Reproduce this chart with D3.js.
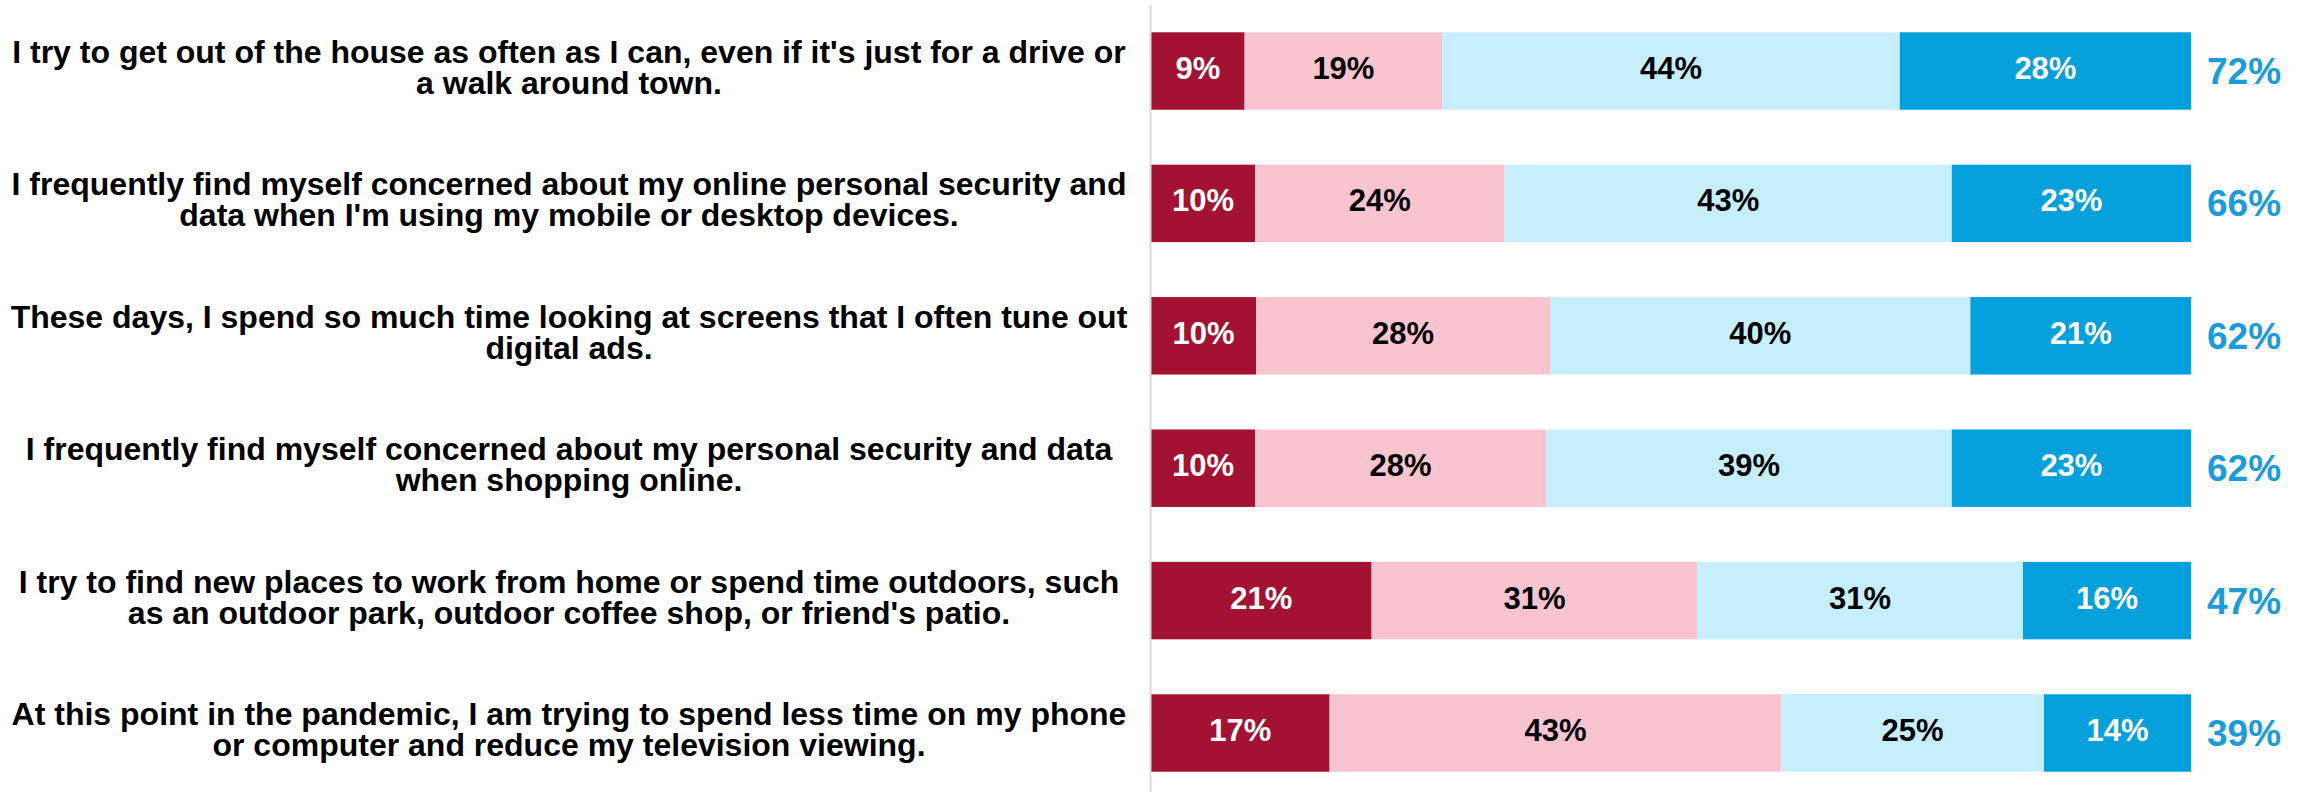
<!DOCTYPE html>
<html>
<head>
<meta charset="utf-8">
<script src="https://cdn.jsdelivr.net/npm/d3@7"></script>
<style>
  html, body { margin: 0; padding: 0; background: #ffffff; }
  svg { display: block; font-family: "Liberation Sans", Arial, Helvetica, sans-serif; }
</style>
</head>
<body>
<svg id="chart" width="2310" height="792"></svg>
<script>
// Statements, each split over two lines as set in the layout
const statements = [
  ["I try to get out of the house as often as I can, even if it's just for a drive or", "a walk around town."],
  ["I frequently find myself concerned about my online personal security and", "data when I'm using my mobile or desktop devices."],
  ["These days, I spend so much time looking at screens that I often tune out", "digital ads."],
  ["I frequently find myself concerned about my personal security and data", "when shopping online."],
  ["I try to find new places to work from home or spend time outdoors, such", "as an outdoor park, outdoor coffee shop, or friend's patio."],
  ["At this point in the pandemic, I am trying to spend less time on my phone", "or computer and reduce my television viewing."]
];

// Response shares (%) per statement, from strongly disagree to strongly agree
const stronglyDisagree = [9, 10, 10, 10, 21, 17];
const somewhatDisagree = [19, 24, 28, 28, 31, 43];
const somewhatAgree    = [44, 43, 40, 39, 31, 25];
const stronglyAgree    = [28, 23, 21, 23, 16, 14];

// Combined agreement (%) shown at the end of each bar
const totalAgree = [72, 66, 62, 62, 47, 39];

const seriesKeys = ["sd", "md", "ma", "sa"];
const fills  = { sd: "#a31133", md: "#f8c4d0", ma: "#c6eefc", sa: "#03a0dc" };
const inks   = { sd: "#ffffff", md: "#000000", ma: "#000000", sa: "#ffffff" };

const rows = statements.map((s, i) => ({
  id: i,
  lines: s,
  sd: stronglyDisagree[i],
  md: somewhatDisagree[i],
  ma: somewhatAgree[i],
  sa: stronglyAgree[i],
  total: totalAgree[i]
}));

const svg = d3.select("#chart");

const x = d3.scaleLinear().domain([0, 1]).range([1151, 2191]);
const y = d3.scaleBand()
  .domain(rows.map(d => d.id))
  .range([4.8, 799.2])
  .paddingInner(0.415)
  .paddingOuter(0.2075);

const stacked = d3.stack()
  .keys(seriesKeys)
  .offset(d3.stackOffsetExpand)(rows);

// Segments
const layers = svg.append("g")
  .selectAll("g")
  .data(stacked)
  .join("g")
  .attr("fill", s => fills[s.key]);

layers.selectAll("rect")
  .data(s => s.map(p => ({ key: s.key, p })))
  .join("rect")
  .attr("x", d => x(d.p[0]))
  .attr("y", d => y(d.p.data.id))
  .attr("width", d => x(d.p[1]) - x(d.p[0]))
  .attr("height", y.bandwidth());

// Segment value labels
layers.selectAll("text")
  .data(s => s.map(p => ({ key: s.key, p })))
  .join("text")
  .attr("x", d => (x(d.p[0]) + x(d.p[1])) / 2)
  .attr("y", d => y(d.p.data.id) + y.bandwidth() / 2 + 8)
  .attr("text-anchor", "middle")
  .attr("font-size", 31)
  .attr("font-weight", "bold")
  .attr("fill", d => inks[d.key])
  .text(d => d.p.data[d.key] + "%");

// Category axis: only the baseline rule, statements drawn as centred two-line labels
const axis = svg.append("g")
  .attr("transform", `translate(${x(0) - 1},0)`)
  .call(d3.axisLeft(y).tickSize(0).tickFormat(""));
axis.select(".domain").attr("stroke", "#d9d9d9").attr("stroke-width", 2);

const labels = svg.append("g")
  .selectAll("text")
  .data(rows)
  .join("text")
  .attr("text-anchor", "middle")
  .attr("font-size", 32)
  .attr("font-weight", "bold")
  .attr("fill", "#000000");

labels.selectAll("tspan")
  .data(d => d.lines.map((line, k) => ({ line, k, id: d.id })))
  .join("tspan")
  .attr("x", 569)
  .attr("y", d => y(d.id) + y.bandwidth() / 2 - 8 + d.k * 31)
  .text(d => d.line);

// Combined agreement totals
svg.append("g")
  .selectAll("text")
  .data(rows)
  .join("text")
  .attr("x", x(1) + 16)
  .attr("y", d => y(d.id) + y.bandwidth() / 2 + 13)
  .attr("font-size", 37)
  .attr("font-weight", "bold")
  .attr("fill", "#1b9cd8")
  .text(d => d.total + "%");
</script>
</body>
</html>
